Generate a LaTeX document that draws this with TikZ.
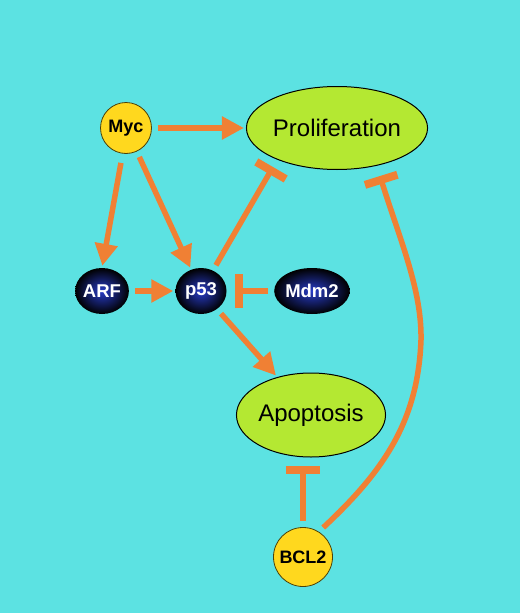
\documentclass[tikz,border=0pt]{standalone}
\usepackage{fontspec}
\setmainfont{Liberation Sans}
\usetikzlibrary{arrows.meta,shapes.geometric}
\definecolor{bgc}{RGB}{92,226,226}
\definecolor{arr}{RGB}{240,128,52}
\definecolor{grn}{RGB}{180,232,50}
\definecolor{ylw}{RGB}{255,216,30}
\definecolor{nvy}{RGB}{40,60,200}
\tikzset{
  x=1pt,y=-1pt,
  outcome/.style={ellipse,draw=black,line width=1pt,fill=grn,inner sep=0pt,
    font=\fontsize{24}{24}\selectfont},
  yel/.style={circle,draw=black!70!ylw,line width=0.8pt,fill=ylw,inner sep=0pt,
    minimum size=52pt,font=\fontsize{18}{18}\selectfont\bfseries,text=black},
  dark/.style={ellipse,shading=radial,inner color=nvy,outer color=black,
    inner sep=0pt,minimum height=46pt,font=\fontsize{18.5}{18}\selectfont\bfseries,text=white},
  act/.style={draw=arr,line width=5.5pt,-{Triangle[length=22pt,width=22pt]},shorten >=2pt,shorten <=6pt},
  inh/.style={draw=arr,line width=5.5pt,-{Bar[width=34pt,line width=8pt]},shorten >=8pt,shorten <=6pt},
}
\begin{document}
\begin{tikzpicture}
\fill[bgc] (0,0) rectangle (520,613);
\useasboundingbox (0,0) rectangle (520,613);
\node[yel,minimum size=51pt] (myc) at (126,128) {Myc};
\node[outcome,minimum width=160pt,minimum height=83pt] (prol) at (337,128) {Proliferation};
\node[dark,minimum width=50pt] (arf) at (102,291) {ARF};
\node[dark,minimum width=51pt] (p53) at (201,291) {p53};
\node[dark,minimum width=63pt] (mdm) at (312,291) {Mdm2};
\node[outcome,minimum width=125pt,minimum height=84pt] (apo) at (311,415) {Apoptosis};
\node[yel,minimum size=59pt] (bcl) at (303,557) {BCL2};
\coordinate (myctop) at (122,157);
\coordinate (prolsw) at (273,167);
\coordinate (prolse) at (380,176);
\draw[act] (myc) -- (prol);
\draw[act] (myctop) -- (arf.north);
\draw[act] (myc) -- (p53);
\draw[act] (arf) -- (p53);
\draw[inh] (mdm) -- (p53);
\draw[inh,shorten >=0pt] (p53) -- (prolsw);
\draw[act] (p53) -- (apo);
\draw[inh] (bcl) -- (bcl |- apo.south);
\draw[inh,shorten >=0pt] (bcl.58) .. controls (385,470) and (418,420) .. (421,340)
   .. controls (422,290) and (400,240) .. (prolse);
\end{tikzpicture}
\end{document}
